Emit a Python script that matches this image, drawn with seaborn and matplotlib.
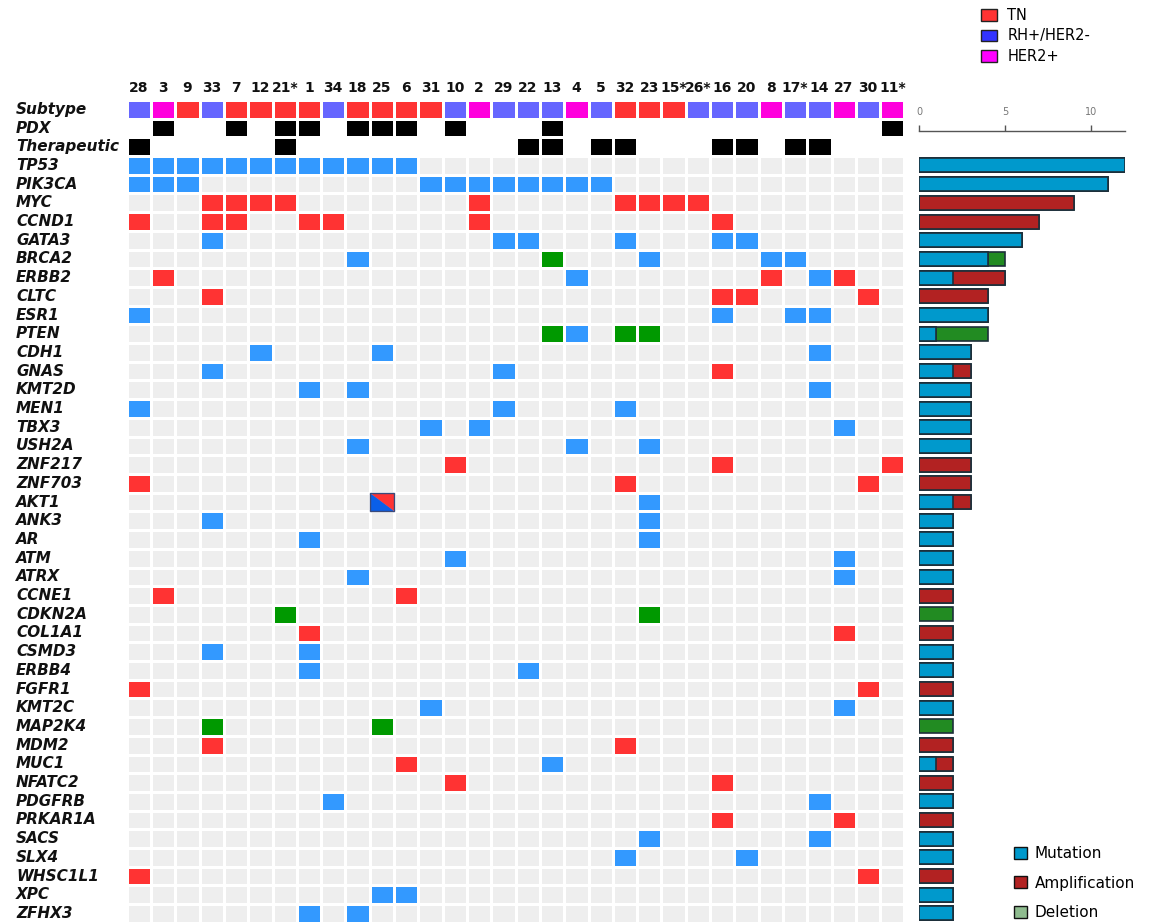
import numpy as np
import matplotlib
matplotlib.use("Agg")
import matplotlib.pyplot as plt
import seaborn as sns
from matplotlib.colors import ListedColormap
from matplotlib.patches import Patch, Polygon
import matplotlib.transforms as mtransforms

# ---------------- data ----------------
samples = ['28', '3', '9', '33', '7', '12', '21*', '1', '34', '18', '25', '6', '31', '10', '2', '29',
           '22', '13', '4', '5', '32', '23', '15*', '26*', '16', '20', '8', '17*', '14', '27', '30', '11*']
subtype = ['RH', 'HER2', 'TN', 'RH', 'TN', 'TN', 'TN', 'TN', 'RH', 'TN', 'TN', 'TN', 'TN', 'RH', 'HER2', 'RH',
           'RH', 'RH', 'HER2', 'RH', 'TN', 'TN', 'TN', 'RH', 'RH', 'RH', 'HER2', 'RH', 'RH', 'HER2', 'RH', 'HER2']
pdx_samples = ['3', '7', '21*', '1', '18', '25', '6', '10', '13', '11*']
therapeutic_samples = ['28', '21*', '22', '13', '5', '32', '16', '20', '17*', '14']

genes = ['TP53', 'PIK3CA', 'MYC', 'CCND1', 'GATA3', 'BRCA2', 'ERBB2', 'CLTC', 'ESR1', 'PTEN',
         'CDH1', 'GNAS', 'KMT2D', 'MEN1', 'TBX3', 'USH2A', 'ZNF217', 'ZNF703', 'AKT1', 'ANK3',
         'AR', 'ATM', 'ATRX', 'CCNE1', 'CDKN2A', 'COL1A1', 'CSMD3', 'ERBB4', 'FGFR1', 'KMT2C',
         'MAP2K4', 'MDM2', 'MUC1', 'NFATC2', 'PDGFRB', 'PRKAR1A', 'SACS', 'SLX4', 'WHSC1L1', 'XPC', 'ZFHX3']

mutation = {
    'TP53': ['28', '3', '9', '33', '7', '12', '21*', '1', '34', '18', '25', '6'],
    'PIK3CA': ['28', '3', '9', '31', '10', '2', '29', '22', '13', '4', '5'],
    'GATA3': ['33', '29', '22', '32', '16', '20'],
    'BRCA2': ['18', '23', '8', '17*'],
    'ERBB2': ['4', '14'],
    'ESR1': ['28', '16', '17*', '14'],
    'PTEN': ['4'],
    'CDH1': ['12', '25', '14'],
    'GNAS': ['33', '29'],
    'KMT2D': ['1', '18', '14'],
    'MEN1': ['28', '29', '32'],
    'TBX3': ['31', '2', '27'],
    'USH2A': ['18', '4', '23'],
    'AKT1': ['25', '23'],
    'ANK3': ['33', '23'],
    'AR': ['1', '23'],
    'ATM': ['10', '27'],
    'ATRX': ['18', '27'],
    'CSMD3': ['33', '1'],
    'ERBB4': ['1', '22'],
    'KMT2C': ['31', '27'],
    'MUC1': ['13'],
    'PDGFRB': ['34', '14'],
    'SACS': ['23', '14'],
    'SLX4': ['32', '20'],
    'XPC': ['25', '6'],
    'ZFHX3': ['1', '18'],
}
amplification = {
    'MYC': ['33', '7', '12', '21*', '2', '32', '23', '15*', '26*'],
    'CCND1': ['28', '33', '7', '1', '34', '2', '16'],
    'ERBB2': ['3', '8', '27'],
    'CLTC': ['33', '16', '20', '30'],
    'GNAS': ['16'],
    'ZNF217': ['10', '16', '11*'],
    'ZNF703': ['28', '32', '30'],
    'AKT1': ['25'],
    'CCNE1': ['3', '6'],
    'COL1A1': ['1', '27'],
    'FGFR1': ['28', '30'],
    'MDM2': ['33', '32'],
    'MUC1': ['6'],
    'NFATC2': ['10', '16'],
    'PRKAR1A': ['16', '27'],
    'WHSC1L1': ['28', '30'],
}
deletion = {
    'BRCA2': ['13'],
    'PTEN': ['13', '32', '23'],
    'CDKN2A': ['21*', '23'],
    'MAP2K4': ['33', '25'],
}

annot_rows = ['Subtype', 'PDX', 'Therapeutic']

# ---------------- styles ----------------
cell_colors = ['#eeeeee',  # 0 empty
               '#3399ff',  # 1 mutation
               '#ff3333',  # 2 amplification
               '#009900',  # 3 deletion
               '#ff3333',  # 4 TN
               '#6666ff',  # 5 RH+/HER2-
               '#ff00dd',  # 6 HER2+
               '#000000',  # 7 yes
               '#ffffff']  # 8 no
sub_code = {'TN': 4, 'RH': 5, 'HER2': 6}

ns = len(samples)
ng = len(genes)
nrows = ng + 3
mat = np.zeros((nrows, ns), dtype=int)
both = []
for j, s in enumerate(samples):
    mat[0, j] = sub_code[subtype[j]]
    mat[1, j] = 7 if s in pdx_samples else 8
    mat[2, j] = 7 if s in therapeutic_samples else 8
for i, g in enumerate(genes):
    r = i + 3
    for j, s in enumerate(samples):
        m = s in mutation.get(g, [])
        a = s in amplification.get(g, [])
        d = s in deletion.get(g, [])
        if m:
            mat[r, j] = 1
        elif a:
            mat[r, j] = 2
        elif d:
            mat[r, j] = 3
        if m and a:
            both.append((r, j))

mut_cnt = np.array([len(mutation.get(g, [])) for g in genes])
amp_cnt = np.array([len(amplification.get(g, [])) for g in genes])
del_cnt = np.array([len(deletion.get(g, [])) for g in genes])

# ---------------- figure ----------------
W, H = 1149, 922
fig = plt.figure(figsize=(W / 100, H / 100), dpi=100)

grid_left, grid_right = 126.7, 904.5
grid_top = 100.0
row_h = 18.7
grid_h = nrows * row_h
ax = fig.add_axes([grid_left / W, (H - grid_top - grid_h) / H, (grid_right - grid_left) / W, grid_h / H])
sns.heatmap(mat, cmap=ListedColormap(cell_colors), vmin=-0.5, vmax=len(cell_colors) - 0.5,
            linewidths=0.8, linecolor='white', cbar=False, xticklabels=False, yticklabels=False, ax=ax)
ax.set_xlabel('')
ax.set_ylabel('')

for (r, j) in both:
    ax.add_patch(Polygon([(j, r), (j, r + 1), (j + 1, r + 1)], closed=True,
                         facecolor='#0a5fe8', edgecolor='none', zorder=3))
    ax.add_patch(Polygon([(j, r), (j + 1, r), (j + 1, r + 1)], closed=True,
                         facecolor='#ff3333', edgecolor='none', zorder=3))
    ax.add_patch(plt.Rectangle((j, r), 1, 1, fill=False, edgecolor='#3a4a7a', lw=1.0, zorder=4))

# column labels
for j, s in enumerate(samples):
    ax.text(j + 0.5, -0.62, s, ha='center', va='center', fontsize=10, fontweight='bold',
            color='#111111', clip_on=False)

# row labels
trans = mtransforms.blended_transform_factory(fig.transFigure, ax.transData)
for r, lab in enumerate(annot_rows + genes):
    ax.text(16 / W, r + 0.5, lab, transform=trans, ha='left', va='center', fontsize=11,
            fontweight='bold', fontstyle='italic', color='#111111')

# ---------------- bar chart ----------------
px_per_unit = 17.2
bar_left = 919.0
bar_top = grid_top + 3 * row_h
bar_h = ng * row_h
axb = fig.add_axes([bar_left / W, (H - bar_top - bar_h) / H, 12 * px_per_unit / W, bar_h / H])
y = np.arange(ng)
edge = '#1c2f3a'
axb.barh(y, mut_cnt + amp_cnt + del_cnt, height=0.75, color='#228b22', edgecolor=edge, linewidth=1.2)
axb.barh(y, mut_cnt + amp_cnt, height=0.75, color='#b22222', edgecolor=edge, linewidth=1.2)
axb.barh(y, mut_cnt, height=0.75, color='#0099cc', edgecolor=edge, linewidth=1.2)
axb.set_xlim(0, 12)
axb.set_ylim(ng - 0.5, -0.5)
axb.set_yticks([])
for sp in ['left', 'right', 'bottom']:
    axb.spines[sp].set_visible(False)
axb.spines['top'].set_position(('outward', 18))
axb.spines['top'].set_color('#555555')
axb.spines['top'].set_linewidth(1.0)
axb.xaxis.tick_top()
axb.set_xticks([0, 5, 10])
axb.tick_params(axis='x', direction='out', length=4.5, width=1, color='#555555',
                labelsize=7, labelcolor='#777777', pad=6)
axb.set_facecolor('none')

# ---------------- legends ----------------
sub_handles = [Patch(facecolor='#ff3333', edgecolor='#222222', label='TN'),
               Patch(facecolor='#3333ff', edgecolor='#222222', label='RH+/HER2-'),
               Patch(facecolor='#ff00ff', edgecolor='#222222', label='HER2+')]
fig.legend(handles=sub_handles, loc='center left', bbox_to_anchor=(981 / W, 1 - 36 / H),
           frameon=False, fontsize=10.5, handlelength=1.1, handleheight=0.85, labelspacing=0.38,
           handletextpad=0.7, borderpad=0, borderaxespad=0)

alt_handles = [Patch(facecolor='#0099cc', edgecolor='#111111', label='Mutation'),
               Patch(facecolor='#b22222', edgecolor='#111111', label='Amplification'),
               Patch(facecolor='#8fbc8f', edgecolor='#111111', label='Deletion')]
fig.legend(handles=alt_handles, loc='center left', bbox_to_anchor=(1014 / W, 1 - 883 / H),
           frameon=False, fontsize=11, handlelength=0.85, handleheight=0.85, labelspacing=0.95,
           handletextpad=0.5, borderpad=0, borderaxespad=0)

fig.savefig('out.png', dpi=100)
